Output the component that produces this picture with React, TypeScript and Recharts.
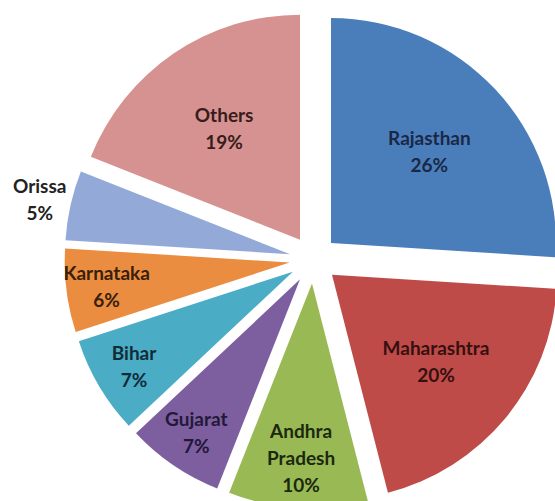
import { PieChart, Pie, Cell, Sector, Tooltip } from "recharts";

const states = ["Rajasthan", "Maharashtra", "Andhra Pradesh", "Gujarat", "Bihar", "Karnataka", "Orissa", "Others"];
const shares = [26, 20, 10, 7, 7, 6, 5, 19];

const COLORS = ["#4A7EBB", "#BE4B48", "#98B954", "#7D5FA0", "#4AACC5", "#EB8D40", "#93A9D7", "#D69290"];
const TEXT_COLORS = ["#1a2846", "#361010", "#1c280e", "#231838", "#112c37", "#38200b", "#222222", "#381c1d"];

const data = states.map((name, i) => ({ name, value: shares[i] }));

const RADIAN = Math.PI / 180;
const EXPLODE = 24;

// every slice pushed out from the centre along its mid angle
const renderSlice = (props: any) => {
  const { cx, cy, innerRadius, outerRadius, startAngle, endAngle, midAngle, fill } = props;
  const dx = EXPLODE * Math.cos(-midAngle * RADIAN);
  const dy = EXPLODE * Math.sin(-midAngle * RADIAN);
  return (
    <Sector
      cx={cx + dx}
      cy={cy + dy}
      innerRadius={innerRadius}
      outerRadius={outerRadius}
      startAngle={startAngle}
      endAngle={endAngle}
      fill={fill}
      stroke="none"
    />
  );
};

const renderLabel = (props: any) => {
  const { cx, cy, midAngle, outerRadius, percent, name, index } = props;
  const lines = [...String(name).split(" "), `${Math.round(percent * 100)}%`];
  let frac = 1.14;
  if (percent >= 0.185) frac = 0.6;
  else if (percent >= 0.055) frac = lines.length > 2 ? 0.775 : 0.82;
  const r = EXPLODE + outerRadius * frac;
  const x = cx + r * Math.cos(-midAngle * RADIAN);
  const y = cy + r * Math.sin(-midAngle * RADIAN);
  const lh = 27;
  const y0 = y - ((lines.length - 1) * lh) / 2;
  return (
    <text
      x={x}
      y={y0}
      textAnchor="middle"
      dominantBaseline="central"
      fill={TEXT_COLORS[index]}
      fontFamily="Lato, 'DejaVu Sans', sans-serif"
      fontWeight={700}
      fontSize={19}
    >
      {lines.map((t, i) => (
        <tspan key={i} x={x} y={y0 + i * lh}>
          {t}
        </tspan>
      ))}
    </text>
  );
};

export default function App() {
  return (
    <div style={{ position: "absolute", left: 0, top: 0, width: 555, height: 501, overflow: "hidden", background: "#fff" }}>
      <PieChart width={555} height={501} margin={{ top: 0, right: 0, bottom: 0, left: 0 }}>
        <Pie
          data={data}
          dataKey="value"
          nameKey="name"
          cx={313.5}
          cy={259.5}
          innerRadius={0}
          outerRadius={225}
          startAngle={90}
          endAngle={-270}
          stroke="none"
          labelLine={false}
          label={renderLabel}
          shape={renderSlice}
          activeShape={renderSlice}
          inactiveShape={renderSlice}
          isAnimationActive={false}
        >
          {data.map((d, i) => (
            <Cell key={d.name} fill={COLORS[i]} />
          ))}
        </Pie>
        <Tooltip defaultIndex={0} content={() => null} cursor={false} />
      </PieChart>
    </div>
  );
}
